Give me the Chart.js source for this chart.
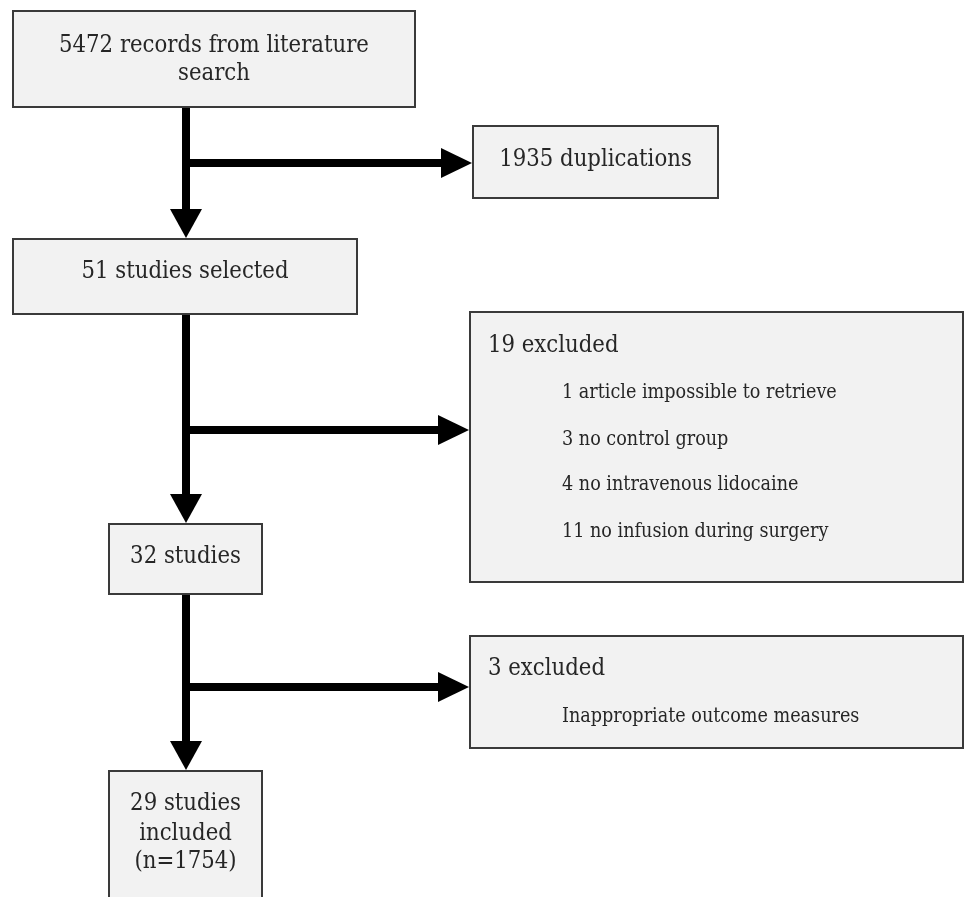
<!DOCTYPE html>
<html lang="en">
<head>
  <meta charset="UTF-8">
  <title>Study selection flow</title>
  <script src="https://cdn.jsdelivr.net/npm/chart.js"></script>
  <style>
    body { margin: 0; background: #ffffff; }
    #wrap { width: 966px; height: 897px; position: relative; }
  </style>
</head>
<body>
  <div id="wrap"><canvas id="flow"></canvas></div>

  <script>
    // Counts at each stage of the selection
    const stageCounts = [5472, 51, 32, 29];
    const stageText = [
      ['5472 records from literature', 'search'],
      ['51 studies selected'],
      ['32 studies'],
      ['29 studies', 'included', '(n=1754)']
    ];
    // Records removed between stages
    const excludedCounts = [1935, 19, 3];
    const excludedTitles = ['1935 duplications', '19 excluded', '3 excluded'];
    const excludedReasons = [
      [],
      ['1 article impossible to retrieve', '3 no control group', '4 no intravenous lidocaine', '11 no infusion during surgery'],
      ['Inappropriate outcome measures']
    ];

    // Layout in chart units (x: 0..966, y: 0..897 top-down)
    const stageBoxes = [
      { x0: 13, x1: 415, y0: 11, y1: 107 },
      { x0: 13, x1: 357, y0: 239, y1: 314 },
      { x0: 109, x1: 262, y0: 524, y1: 594 },
      { x0: 109, x1: 262, y0: 771, y1: 905 }
    ];
    const stageBaselines = [[52, 80], [278], [563], [810, 840, 868]];
    const exclBoxes = [
      { x0: 473, x1: 718, y0: 126, y1: 198 },
      { x0: 470, x1: 963, y0: 312, y1: 582 },
      { x0: 470, x1: 963, y0: 636, y1: 748 }
    ];
    const branchY = [163, 430, 687];
    const spineX = 186;

    const font = '"DejaVu Serif Condensed", "DejaVu Serif", "Liberation Serif", serif';

    // pick a font size so a reference line gets the width seen in the picture
    function fitSize(ctx, sample, width) {
      ctx.font = '100px ' + font;
      return 100 * width / ctx.measureText(sample).width;
    }

    const flowPlugin = {
      id: 'flow',
      afterDraw(chart) {
        const ctx = chart.ctx;
        const xs = chart.scales.x, ys = chart.scales.y;
        const px = v => xs.getPixelForValue(v);
        const py = v => ys.getPixelForValue(v);

        function box(b) {
          ctx.fillStyle = '#f2f2f2';
          ctx.fillRect(px(b.x0), py(b.y0), px(b.x1) - px(b.x0), py(b.y1) - py(b.y0));
          ctx.strokeStyle = '#3a3a3a';
          ctx.lineWidth = 2;
          ctx.strokeRect(px(b.x0), py(b.y0), px(b.x1) - px(b.x0), py(b.y1) - py(b.y0));
        }
        function text(t, x, y) {
          ctx.fillText(t, px(x), py(y));
        }

        ctx.save();
        // arrows
        ctx.fillStyle = '#000';
        ctx.strokeStyle = '#000';
        ctx.lineWidth = 8;
        ctx.lineCap = 'butt';
        for (let i = 0; i < 3; i++) {
          const top = stageBoxes[i].y1, next = stageBoxes[i + 1].y0;
          ctx.beginPath();
          ctx.moveTo(px(spineX), py(top));
          ctx.lineTo(px(spineX), py(next - 28));
          ctx.stroke();
          ctx.beginPath();
          ctx.moveTo(px(spineX - 16), py(next - 30));
          ctx.lineTo(px(spineX + 16), py(next - 30));
          ctx.lineTo(px(spineX), py(next - 1));
          ctx.closePath();
          ctx.fill();

          const tip = exclBoxes[i].x0 - 1;
          ctx.beginPath();
          ctx.moveTo(px(spineX - 4), py(branchY[i]));
          ctx.lineTo(px(tip - 28), py(branchY[i]));
          ctx.stroke();
          ctx.beginPath();
          ctx.moveTo(px(tip - 31), py(branchY[i] - 15));
          ctx.lineTo(px(tip - 31), py(branchY[i] + 15));
          ctx.lineTo(px(tip), py(branchY[i]));
          ctx.closePath();
          ctx.fill();
        }

        // boxes
        stageBoxes.forEach(box);
        exclBoxes.forEach(box);

        const mainSize = fitSize(ctx, stageText[0][0], 310);
        const subSize = fitSize(ctx, excludedReasons[1][0], 275);

        ctx.fillStyle = '#262626';
        ctx.textBaseline = 'alphabetic';
        ctx.font = mainSize + 'px ' + font;
        ctx.textAlign = 'center';
        stageText.forEach((lines, i) => {
          const b = stageBoxes[i];
          lines.forEach((t, j) => text(t, (b.x0 + b.x1) / 2, stageBaselines[i][j]));
        });

        // duplications box: centred
        text(excludedTitles[0], (exclBoxes[0].x0 + exclBoxes[0].x1) / 2, 166);
        // exclusion boxes: left aligned with indented reasons
        ctx.textAlign = 'left';
        const titleBase = [null, 352, 675];
        const reasonBase = [null, [398, 445, 490, 537], [722]];
        for (let i = 1; i < 3; i++) {
          ctx.font = mainSize + 'px ' + font;
          text(excludedTitles[i], 488, titleBase[i]);
          ctx.font = subSize + 'px ' + font;
          excludedReasons[i].forEach((t, j) => text(t, 562, reasonBase[i][j]));
        }
        ctx.restore();
      }
    };

    new Chart(document.getElementById('flow'), {
      type: 'scatter',
      data: { datasets: [{ data: [], pointRadius: 0 }] },
      options: {
        responsive: true,
        maintainAspectRatio: false,
        animation: false,
        events: [],
        layout: { padding: 0 },
        plugins: { legend: { display: false }, tooltip: { enabled: false } },
        scales: {
          x: { type: 'linear', min: 0, max: 966, display: false },
          y: { type: 'linear', min: 0, max: 897, reverse: true, display: false }
        }
      },
      plugins: [flowPlugin]
    });
  </script>
</body>
</html>
